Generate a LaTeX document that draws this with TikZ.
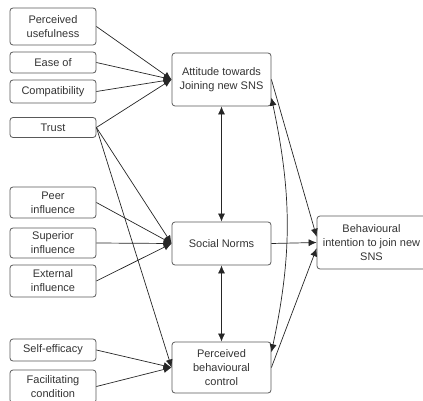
\documentclass[tikz,border=0pt]{standalone}
\usepackage{fontspec}
\setmainfont{Liberation Sans}
\usepackage{xcolor}
\usetikzlibrary{arrows.meta}

\begin{document}
\begin{tikzpicture}[x=1pt,y=-1pt,
  box/.style={draw=black!65,line width=0.8pt,rounded corners=3pt,align=center,inner sep=0pt,text=black!80,font=\fontsize{11}{14}\selectfont},
  lbox/.style={box,minimum width=86pt},
  cbox/.style={box,minimum width=99pt},
  arr/.style={draw=black!85,line width=0.7pt,-{Latex[length=8pt,width=7pt]}},
  darr/.style={arr,{Latex[length=8pt,width=7pt]}-{Latex[length=8pt,width=7pt]}}]
\useasboundingbox (0,0) rectangle (423,401);

% left column
\node[lbox,minimum height=37pt] (pu) at (53,26.5) {Perceived\\usefulness};
\node[lbox,minimum height=21pt] (ease) at (53,62.5) {Ease of};
\node[lbox,minimum height=23pt] (comp) at (53,91.5) {Compatibility};
\node[lbox,minimum height=20pt] (trust) at (53,127.5) {Trust};
\node[lbox,minimum height=31pt] (peer) at (53,202.5) {Peer\\influence};
\node[lbox,minimum height=30pt] (sup) at (53,243) {Superior\\influence};
\node[lbox,minimum height=32pt] (ext) at (53,281) {External\\influence};
\node[lbox,minimum height=22pt] (self) at (53,350) {Self-efficacy};
\node[lbox,minimum height=33pt] (fac) at (53,386.5) {Facilitating\\condition};

% middle and right
\node[cbox,minimum height=53pt] (att) at (221.5,79.5) {Attitude towards\\Joining new SNS};
\node[cbox,minimum height=43pt] (sn) at (221.5,243.5) {Social Norms};
\node[cbox,minimum height=51pt] (pbc) at (221.5,367.5) {Perceived\\behavioural\\control};
\node[box,minimum width=109pt,minimum height=53pt] (bi) at (371.5,242.5) {Behavioural\\intention to join new\\SNS};

\foreach \a in {pu,ease,comp,trust}{
\draw[arr] (\a.east) -- (att.west);
}
\foreach \a in {peer,sup,ext,trust}{
\draw[arr] (\a.east) -- (sn.west);
}
\foreach \a in {self,fac,trust}{
\draw[arr] (\a.east) -- (pbc.west);
}

\draw[darr] (att.south) -- (sn.north);
\draw[darr] (sn.south) -- (pbc.north);
\draw[darr] (att.340) to[bend left=12] (pbc.17);

\draw[arr] (att.east) -- (bi.174);
\draw[arr] (sn.east) -- (bi.west);
\draw[arr] (pbc.east) -- (bi.186);
\end{tikzpicture}
\end{document}
